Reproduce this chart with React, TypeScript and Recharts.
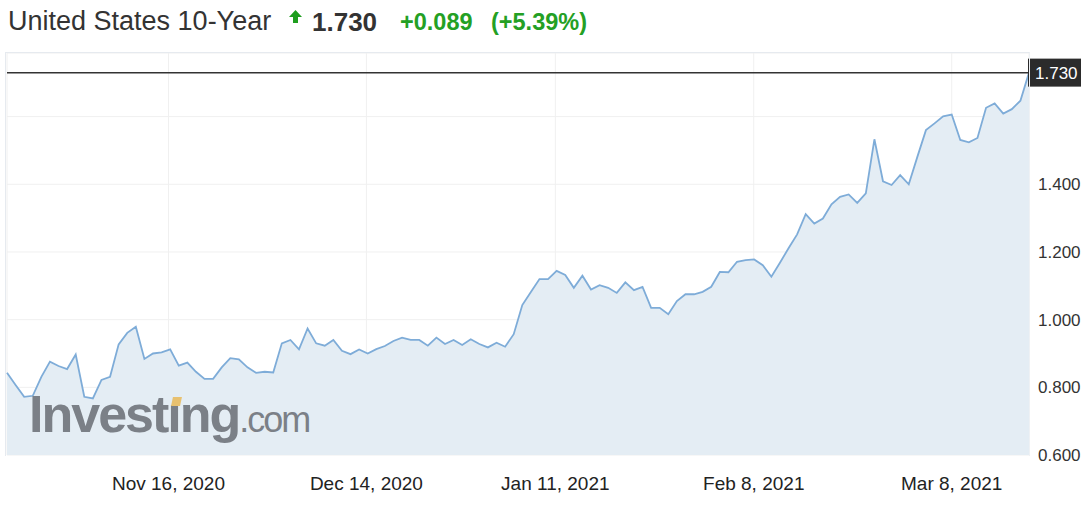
import {
  AreaChart,
  Area,
  XAxis,
  YAxis,
  CartesianGrid,
  ReferenceLine,
} from "recharts";

const FONT = '"Liberation Sans", Arial, sans-serif';

// daily closing yield, late Oct 2020 -> Mar 2021
const yields = [
  0.843, 0.807, 0.772, 0.775, 0.831, 0.876, 0.863, 0.854, 0.897, 0.772,
  0.767, 0.822, 0.831, 0.927, 0.961, 0.979, 0.884, 0.9, 0.903, 0.912,
  0.864, 0.873, 0.846, 0.825, 0.825, 0.859, 0.886, 0.883, 0.859, 0.843,
  0.846, 0.844, 0.93, 0.94, 0.912, 0.974, 0.93, 0.923, 0.94, 0.908,
  0.898, 0.912, 0.9, 0.913, 0.922, 0.937, 0.947, 0.94, 0.94, 0.923,
  0.947, 0.928, 0.94, 0.925, 0.942, 0.928, 0.918, 0.932, 0.92, 0.957,
  1.043, 1.082, 1.12, 1.12, 1.144, 1.132, 1.094, 1.13, 1.089, 1.102,
  1.094, 1.079, 1.11, 1.087, 1.097, 1.035, 1.035, 1.016, 1.055, 1.075,
  1.075, 1.082, 1.097, 1.141, 1.14, 1.171, 1.176, 1.178, 1.161, 1.127,
  1.168, 1.211, 1.252, 1.312, 1.284, 1.299, 1.341, 1.363, 1.37, 1.345,
  1.373, 1.533, 1.409, 1.398, 1.427, 1.4, 1.481, 1.56, 1.58, 1.601,
  1.606, 1.531, 1.524, 1.537, 1.626, 1.639, 1.609, 1.622, 1.647, 1.73,
];

// position of each date label, in data points
const tickIndex = [18.8, 41.85, 63.85, 86.95, 110];
const tickLabels = ["Nov 16, 2020", "Dec 14, 2020", "Jan 11, 2021", "Feb 8, 2021", "Mar 8, 2021"];
const yTicks = [0.6, 0.8, 1.0, 1.2, 1.4, 1.6];
const lastValue = 1.73;
const changeAbs = "+0.089";
const changePct = "(+5.39%)";

const data = yields.map((v, i) => ({ i, v }));

function PriceTag(props: any) {
  const { viewBox } = props;
  if (!viewBox) return null;
  const x = viewBox.x + viewBox.width - 1;
  const y = viewBox.y;
  return (
    <g>
      <rect x={x} y={y - 14} width={53} height={28} fill="#2b2b2b" />
      <text
        x={x + 7}
        y={y}
        dy="0.355em"
        fill="#fff"
        fontSize={17}
        fontFamily={FONT}
      >
        {lastValue.toFixed(3)}
      </text>
    </g>
  );
}

export default function App() {
  return (
    <div
      style={{
        position: "absolute",
        left: 0,
        top: 0,
        width: 1091,
        height: 506,
        background: "#fff",
        fontFamily: FONT,
      }}
    >
      <div style={{ position: "absolute", left: 0, top: 0, whiteSpace: "nowrap" }}>
        <span style={{ position: "absolute", left: 8, top: 6, fontSize: 27, color: "#333" }}>
          United States 10-Year
        </span>
        <svg style={{ position: "absolute", left: 289, top: 10 }} width={13} height={14}>
          <polygon points="6.5,0 13,7 9,7 9,13 4,13 4,7 0,7" fill="#1e9e1e" />
        </svg>
        <span
          style={{ position: "absolute", left: 312, top: 7, fontSize: 26, fontWeight: 700, color: "#333" }}
        >
          {lastValue.toFixed(3)}
        </span>
        <span
          style={{ position: "absolute", left: 400, top: 9, fontSize: 23.5, fontWeight: 700, color: "#24a024" }}
        >
          {changeAbs}
        </span>
        <span
          style={{ position: "absolute", left: 491, top: 9, fontSize: 23.5, fontWeight: 700, color: "#24a024" }}
        >
          {changePct}
        </span>
      </div>

      <div style={{ position: "absolute", left: 0, top: 0 }}>
        <AreaChart
          width={1091}
          height={506}
          data={data}
          margin={{ top: 53, right: 0, bottom: 0, left: 7 }}
        >
          <CartesianGrid stroke="#f0f0f0" />
          <XAxis
            dataKey="i"
            type="number"
            domain={[0, yields.length - 1]}
            ticks={tickIndex}
            interval={0}
            tickFormatter={(t: number) => tickLabels[tickIndex.indexOf(t)] ?? ""}
            axisLine={false}
            tickLine={false}
            tickSize={0}
            tickMargin={22}
            height={51}
            tick={{ fill: "#222", fontSize: 19, fontFamily: FONT }}
          />
          <YAxis
            orientation="right"
            domain={[0.6, 1.788]}
            ticks={yTicks}
            interval={0}
            allowDataOverflow
            tickFormatter={(v: number) => (v > 1.5 ? "" : v.toFixed(3))}
            axisLine={false}
            tickLine={false}
            tickSize={0}
            tickMargin={9}
            width={62}
            tick={{ fill: "#333", fontSize: 17, fontFamily: FONT }}
          />
          <Area
            type="linear"
            dataKey="v"
            stroke="#7eacd8"
            strokeWidth={1.8}
            fill="#e4edf4"
            fillOpacity={1}
            dot={false}
            activeDot={false}
            isAnimationActive={false}
          />
          <ReferenceLine
            y={lastValue}
            stroke="#333"
            strokeWidth={1.5}
            label={(p: any) => <PriceTag {...p} />}
          />
        </AreaChart>
      </div>

      {/* plot frame */}
      <div
        style={{
          position: "absolute",
          left: 5,
          top: 52,
          width: 1023,
          height: 403,
          borderTop: "1px solid #e6eaef",
          borderLeft: "1px solid #e6eaef",
          borderRight: "1px solid #eef1f4",
          pointerEvents: "none",
        }}
      />

      {/* watermark */}
      <div
        style={{
          position: "absolute",
          left: 29,
          top: 384,
          color: "#7b8087",
          whiteSpace: "nowrap",
          pointerEvents: "none",
        }}
      >
        <span style={{ fontSize: 52, fontWeight: 700, letterSpacing: -2 }}>Investıng</span>
        <span style={{ fontSize: 36, letterSpacing: -2 }}>.com</span>
        <div
          style={{
            position: "absolute",
            left: 143,
            top: 13,
            width: 9,
            height: 9,
            background: "#e8c170",
            transform: "skewX(-12deg)",
          }}
        />
      </div>
    </div>
  );
}
